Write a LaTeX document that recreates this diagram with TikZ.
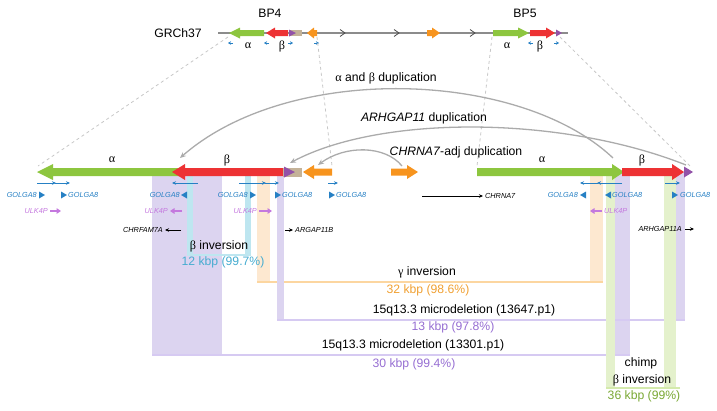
\documentclass[tikz,border=0pt]{standalone}
\usepackage{fontspec}
\setmainfont{Liberation Sans}
\newfontfamily\grk{Liberation Serif}
\usetikzlibrary{arrows.meta,calc,positioning}
\definecolor{segred}{RGB}{237,50,52}
\definecolor{seggreen}{RGB}{141,198,63}
\definecolor{segorange}{RGB}{247,148,30}
\definecolor{segpurple}{RGB}{146,82,168}
\definecolor{segtan}{RGB}{196,178,152}
\definecolor{primerblue}{RGB}{38,128,196}
\definecolor{ulkviolet}{RGB}{196,120,222}
\definecolor{bandcyan}{RGB}{190,230,240}
\definecolor{bandpurple}{RGB}{220,212,240}
\definecolor{bandorange}{RGB}{253,232,208}
\definecolor{bandgreen}{RGB}{228,241,204}
\definecolor{lineorange}{RGB}{252,214,160}
\definecolor{linepurple}{RGB}{214,202,242}
\definecolor{linegreen}{RGB}{212,234,172}
\definecolor{txtcyan}{RGB}{70,172,208}
\definecolor{txtorange}{RGB}{240,160,50}
\definecolor{txtpurple}{RGB}{150,110,210}
\definecolor{txtgreen}{RGB}{122,168,52}
\tikzset{
  lbl/.style={font=\fontsize{12.2}{14}\selectfont, inner sep=0pt},
  tag/.style={font=\fontsize{7.3}{8}\selectfont\itshape, inner sep=0pt},
  dup/.style={draw=black!33, line width=1.3pt, -{Stealth[length=6pt,width=5pt]}},
  proj/.style={draw=black!22, dashed, line width=0.8pt},
  primer/.style={draw=primerblue, line width=0.9pt, -{Stealth[length=4pt,width=3.5pt]}},
  gene/.style={draw=black, line width=0.7pt, -{Stealth[length=4pt,width=3.5pt]}},
  ulk/.style={draw=ulkviolet, line width=1.2pt, -{Triangle[length=4.5pt,width=5.5pt]}},
  bar/.style={line width=1.6pt}
}
% color, tail x, tip x, y, body half, head half, head length
\newcommand{\blk}[7]{%
  \pgfmathsetmacro{\hbase}{#3+((#2>#3) ? 1 : -1)*#7}%
  \fill[#1] (#2,#4-#5) -- (\hbase,#4-#5) -- (\hbase,#4-#6) -- (#3,#4) -- (\hbase,#4+#6) -- (\hbase,#4+#5) -- (#2,#4+#5) -- cycle;}
% color, x of flat side, x of point, y
\newcommand{\tri}[4]{\fill[#1] (#2,#4-3.5) -- (#3,#4) -- (#2,#4+3.5) -- cycle;}

\begin{document}
\begin{tikzpicture}[x=1pt,y=-1pt]
\useasboundingbox (0,0) rectangle (717,410);

% bands
\fill[bandpurple] (152,172) rectangle (222,355);
\fill[bandpurple] (615,172) rectangle (630,355);
\draw[linepurple,bar] (152,355) -- (630,355);
\fill[bandcyan] (187,172) rectangle (193,255);
\fill[bandcyan] (245,172) rectangle (251,255);
\draw[bandcyan,bar] (187,255) -- (251,255);
\fill[bandorange] (257,172) rectangle (270,282);
\fill[bandorange] (590,172) rectangle (603,282);
\draw[lineorange,bar] (257,282) -- (603,282);
\fill[bandpurple] (277,172) rectangle (284,320);
\fill[bandpurple] (676,172) rectangle (685,320);
\draw[linepurple,bar] (277,320) -- (685,320);
\fill[bandgreen] (606,172) rectangle (615,388);
\fill[bandgreen] (664,172) rectangle (676,388);
\draw[linegreen,bar] (606,388) -- (680,388);

% reference row
\node[lbl] (grch) at (178,33) {GRCh37};
\node[lbl] (bp4) at (270,13) {BP4};
\node[lbl] (bp5) at (525,13) {BP5};
\draw[black!45,line width=1.3pt] (218,33) -- (568,33);
\foreach \cx in {343,397,473}
  \draw[black!70,line width=0.8pt] (\cx-3,29.5) -- (\cx+2,33) -- (\cx-3,36.5);
\blk{seggreen}{264}{229}{33}{3}{5.5}{11}
\blk{segred}{288}{266}{33}{3}{5.5}{9}
\fill[segtan] (289,30) rectangle (302,36);
\tri{segpurple}{289}{296}{33}
\blk{segorange}{317}{307}{33}{3}{5.5}{7}
\blk{segorange}{427}{440}{33}{3}{5.5}{8}
\blk{seggreen}{493}{529}{33}{3}{5.5}{11}
\blk{segred}{530}{555}{33}{3}{5.5}{9}
\tri{segpurple}{556}{562}{33}
\node[lbl] (ta1) at (248,46) {\grk α};
\node[lbl] (tb1) at (282,47) {\grk β};
\node[lbl] (ta2) at (507,46) {\grk α};
\node[lbl] (tb2) at (540,47) {\grk β};
\foreach \ps/\pe in {233/228,269/264,288/293,314/319,533/528,554/559}
  \draw[primer,line width=0.8pt,-{Stealth[length=3pt,width=3.5pt]}] (\ps,43) -- (\pe,43);

% projections
\coordinate (p1a) at (228,37); \coordinate (p1b) at (38,166);
\coordinate (p2a) at (317,37); \coordinate (p2b) at (332,166);
\coordinate (p3a) at (492,37); \coordinate (p3b) at (477,166);
\coordinate (p4a) at (560,37); \coordinate (p4b) at (690,166);
\draw[proj] (p1a) -- (p1b);
\draw[proj] (p2a) -- (p2b);
\draw[proj] (p3a) -- (p3b);
\draw[proj] (p4a) -- (p4b);

% duplications
\coordinate (d1s) at (613,158); \coordinate (d1e) at (180,158);
\coordinate (d2s) at (686,165); \coordinate (d2e) at (290,163);
\coordinate (d3s) at (402,166); \coordinate (d3e) at (318,165);
\draw[dup] (d1s) .. controls (520,70) and (290,62) .. (d1e);
\draw[dup] (d2s) .. controls (560,115) and (380,115) .. (d2e);
\draw[dup] (d3s) .. controls (385,145) and (345,145) .. (d3e);
\node[lbl] (dupab) at (386,78) {{\grk α} and {\grk β} duplication};
\node[lbl] (dupar) at (424,118) {\textit{ARHGAP11} duplication};
\node[lbl] (dupch) at (456,152) {\textit{CHRNA7}-adj duplication};

% expanded row
\blk{seggreen}{180}{37}{172}{4}{8}{16}
\blk{segred}{283}{172}{172}{4}{8}{13}
\fill[segtan] (283,167.5) rectangle (302,176.5);
\fill[segpurple] (284,166.5) -- (295,172) -- (284,177.5) -- cycle;
\blk{segorange}{332}{303}{172}{3.5}{7}{11}
\blk{segorange}{391}{418}{172}{3.5}{7}{11}
\blk{seggreen}{477}{624}{172}{4}{8}{12}
\blk{segred}{622}{684}{172}{4}{8}{12}
\fill[segpurple] (684,166.5) -- (693,172) -- (684,177.5) -- cycle;
\node[lbl] (ma1) at (112,160) {\grk α};
\node[lbl] (mb1) at (227,160) {\grk β};
\node[lbl] (ma2) at (542,160) {\grk α};
\node[lbl] (mb2) at (642,160) {\grk β};

% primers
\draw[primer] (37,183) -- (56,183);
\draw[primer] (55,183) -- (70,183);
\draw[primer] (198,183) -- (172,183);
\draw[primer] (239,183) -- (266,183);
\draw[primer] (265,183) -- (279,183);
\draw[primer] (328,183) -- (338,183);
\draw[primer] (622,183) -- (597,183);
\draw[primer] (598,183) -- (580,183);
\draw[primer] (665,183) -- (680,183);

% GOLGA8
\node[tag,text=primerblue,anchor=east] (g1) at (37,195) {GOLGA8};
\tri{primerblue}{39}{45}{195}
\tri{primerblue}{61}{67}{195}
\node[tag,text=primerblue,anchor=west] (g2) at (68,195) {GOLGA8};
\node[tag,text=primerblue,anchor=east] (g3) at (180,195) {GOLGA8};
\tri{primerblue}{187}{181}{195}
\node[tag,text=primerblue,anchor=east] (g4) at (248,195) {GOLGA8};
\tri{primerblue}{250}{256}{195}
\tri{primerblue}{275}{281}{195}
\node[tag,text=primerblue,anchor=west] (g5) at (282,195) {GOLGA8};
\tri{primerblue}{329}{335}{195}
\node[tag,text=primerblue,anchor=west] (g6) at (336,195) {GOLGA8};
\node[tag,text=primerblue,anchor=east] (g7) at (578,195) {GOLGA8};
\tri{primerblue}{586}{580}{195}
\tri{primerblue}{611}{605}{195}
\node[tag,text=primerblue,anchor=west] (g8) at (612,195) {GOLGA8};
\tri{primerblue}{672}{678}{195}
\node[tag,text=primerblue,anchor=west] (g9) at (680,195) {GOLGA8};

% ULK4P
\node[tag,text=ulkviolet,anchor=east] (u1) at (48,211) {ULK4P};
\draw[ulk] (50,211) -- (61,211);
\node[tag,text=ulkviolet,anchor=east] (u2) at (168,211) {ULK4P};
\draw[ulk] (182,211) -- (170,211);
\node[tag,text=ulkviolet,anchor=east] (u3) at (257,211) {ULK4P};
\draw[ulk] (259,211) -- (272,211);
\draw[ulk] (602,211) -- (590,211);
\node[tag,text=ulkviolet,anchor=west] (u4) at (604,211) {ULK4P};

% other genes
\node[tag,anchor=east] (cf) at (163,230) {CHRFAM7A};
\draw[gene] (181,230) -- (165,230);
\draw[gene] (285,230) -- (293,230);
\node[tag,anchor=west] (ab) at (295,230) {ARGAP11B};
\node[tag,anchor=east] (aa) at (682,229) {ARHGAP11A};
\draw[gene] (685,229) -- (694,229);
\draw[gene] (422,196) -- (483,196);
\node[tag,anchor=west] (cn) at (485,196) {CHRNA7};

% event labels
\node[lbl] (binv) at (219,246) {{\grk β} inversion};
\node[lbl,text=txtcyan] (binvkb) at (223,262) {12 kbp (99.7\%)};
\node[lbl] (ginv) at (427,272) {{\grk γ} inversion};
\node[lbl,text=txtorange] (ginvkb) at (428,290) {32 kbp (98.6\%)};
\node[lbl] (del1) at (464,310) {15q13.3 microdeletion (13647.p1)};
\node[lbl,text=txtpurple] (del1kb) at (453,327) {13 kbp (97.8\%)};
\node[lbl] (del2) at (413,345) {15q13.3 microdeletion (13301.p1)};
\node[lbl,text=txtpurple] (del2kb) at (414,364) {30 kbp (99.4\%)};
\node[lbl] (chimp) at (641,363) {chimp};
\node[lbl] (chinv) at (642,380) {{\grk β} inversion};
\node[lbl,text=txtgreen] (chkb) at (644,396) {36 kbp (99\%)};
\end{tikzpicture}
\end{document}
